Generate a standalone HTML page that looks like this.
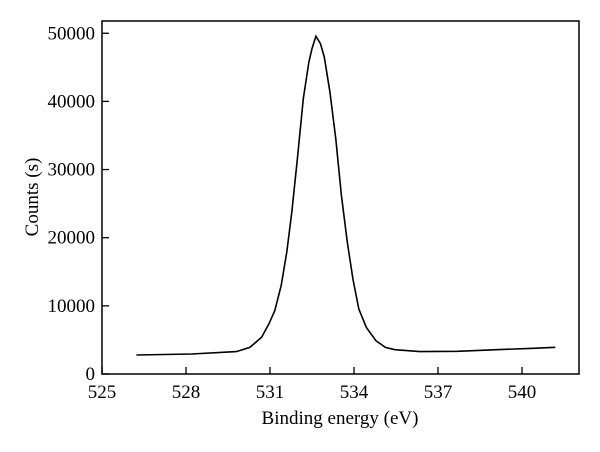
<!DOCTYPE html>
<html><head><meta charset="utf-8"><style>
body{margin:0;background:#fff}
svg{display:block;font-family:"Liberation Serif",serif}
</style></head><body>
<svg id="chart" width="600" height="452">
<rect x="102" y="21" width="477" height="353" fill="none" stroke="#000" stroke-width="1.5"/>
<g id="axes"></g>
<path id="line" fill="none" stroke="#000" stroke-width="1.6"/>
<text x="38" y="197" font-size="19" text-anchor="middle" transform="rotate(-90 38 197)">Counts (s)</text>
<text x="340" y="424" font-size="19" text-anchor="middle">Binding energy (eV)</text>
</svg>
<script>
const energies=[526.23,528.2,529.8,530.28,530.7,530.96,531.17,531.4,531.6,531.78,531.98,532.19,532.39,532.5,532.64,532.8,532.94,533.14,533.35,533.55,533.76,533.96,534.17,534.44,534.78,535.12,535.46,536.35,537.7,539.08,540.4,541.19];
const counts=[2790,2940,3280,3900,5400,7350,9300,13000,17900,23750,31600,40400,45800,47750,49550,48500,46500,41400,34500,26200,19350,13950,9550,6850,4900,3900,3570,3280,3330,3570,3770,3920];
const xTicks=[525,528,531,534,537,540];
const yTicks=[0,10000,20000,30000,40000,50000];
const X=v=>102+(v-525)*28;
const Y=v=>374-v*0.006815;
const NS="http://www.w3.org/2000/svg";
const ax=document.getElementById('axes');
xTicks.forEach(t=>{
 const l=document.createElementNS(NS,'line');
 l.setAttribute('x1',X(t));l.setAttribute('x2',X(t));l.setAttribute('y1',374);l.setAttribute('y2',367);l.setAttribute('stroke','#000');l.setAttribute('stroke-width','1.3');
 
 
 ax.appendChild(l);
 const tx=document.createElementNS(NS,'text');
 tx.setAttribute('x',X(t));tx.setAttribute('y',398);tx.setAttribute('font-size','19');tx.setAttribute('text-anchor','middle');
 tx.textContent=t;
 
 
 ax.appendChild(tx);
});
yTicks.forEach(t=>{
 const l=document.createElementNS(NS,'line');
 l.setAttribute('x1',102);l.setAttribute('x2',109);l.setAttribute('y1',Y(t));l.setAttribute('y2',Y(t));l.setAttribute('stroke','#000');l.setAttribute('stroke-width','1.3');
 
 
 ax.appendChild(l);
 const tx=document.createElementNS(NS,'text');
 tx.setAttribute('x',95);tx.setAttribute('y',Y(t)+6);tx.setAttribute('font-size','19');tx.setAttribute('text-anchor','end');
 tx.textContent=t;
 
 
 ax.appendChild(tx);
});
document.getElementById('line').setAttribute('d',energies.map((e,i)=>(i?'L':'M')+X(e).toFixed(1)+','+Y(counts[i]).toFixed(1)).join(''));
</script>
</body></html>
